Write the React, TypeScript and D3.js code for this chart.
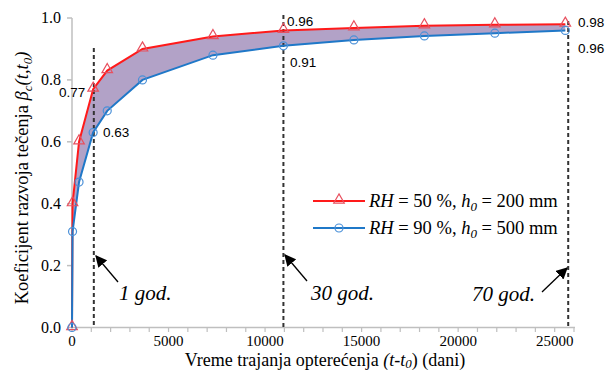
import React from "react";
import * as d3 from "d3";

const days = [0, 28, 365, 1095, 1825, 3650, 7300, 10950, 14600, 18250, 21900, 25550];
const rh50 = [0, 0.40, 0.60, 0.77, 0.83, 0.90, 0.94, 0.96, 0.968, 0.975, 0.978, 0.98];
const rh90 = [0, 0.31, 0.47, 0.63, 0.70, 0.80, 0.88, 0.91, 0.929, 0.942, 0.951, 0.96];
const xTicks = [0, 5000, 10000, 15000, 20000, 25000];
const xMinor = d3.range(0, 26001, 1000);
const yTicks = [0, 0.2, 0.4, 0.6, 0.8, 1.0];
const yearLines = [
  { x: 1130, label: "1 god." },
  { x: 10950, label: "30 god." },
  { x: 25700, label: "70 god." },
];

const W = 608, H = 371;
const x = d3.scaleLinear().domain([0, 26000]).range([72, 574]);
const y = d3.scaleLinear().domain([0, 1]).range([327.5, 18]);

const RED = "#ff1a1a";
const BLUE = "#1f78c8";
const serif = '"Liberation Serif"';
const sans = '"Liberation Sans"';

export default function App() {
  const pts = days.map((d, i) => ({ d, a: rh50[i], b: rh90[i] }));
  const area = d3.area<any>().x(p => x(p.d)).y0(p => y(p.b)).y1(p => y(p.a))(pts) || "";
  const lineA = d3.line<any>().x(p => x(p.d)).y(p => y(p.a))(pts) || "";
  const lineB = d3.line<any>().x(p => x(p.d)).y(p => y(p.b))(pts) || "";
  const tri = d3.symbol().type(d3.symbolTriangle).size(48)() || "";

  const dashTops = [48, 15, 21];
  const arrows = [
    { x1: 118, y1: 282, x2: 96, y2: 256, tx: 119, ty: 300 },
    { x1: 307, y1: 281, x2: 285, y2: 255, tx: 311, ty: 300 },
    { x1: 542, y1: 292, x2: 567, y2: 268, tx: 472, ty: 301 },
  ];
  const st = (f: string) => ({ fontFamily: f });

  return (
    <svg width={W} height={H} style={{ position: "absolute", left: 0, top: 0 }}>
      <defs>
        <marker id="ah" viewBox="0 0 10 10" refX="9" refY="5" markerWidth="9" markerHeight="9" orient="auto">
          <path d="M0,0 L10,5 L0,10 z" fill="#000" />
        </marker>
      </defs>
      <rect width={W} height={H} fill="#fff" />
      <line x1={72} x2={72} y1={18} y2={327.5} stroke="#bfbfbf" strokeWidth={1.5} />
      <line x1={72} x2={575} y1={327.5} y2={327.5} stroke="#bfbfbf" strokeWidth={1.5} />
      {yTicks.map(t => (
        <g key={t}>
          <line x1={67} x2={72} y1={y(t)} y2={y(t)} stroke="#bfbfbf" strokeWidth={1.5} />
          <text x={61} y={y(t) + 5} textAnchor="end" style={st(serif)} fontSize={16} fill="#000">{t.toFixed(1)}</text>
        </g>
      ))}
      {xMinor.map(t => (
        <line key={t} x1={x(t)} x2={x(t)} y1={327.5} y2={332} stroke="#bfbfbf" strokeWidth={1.2} />
      ))}
      {xTicks.map(t => (
        <text key={t} x={x(t)} y={346} textAnchor="middle" style={st(serif)} fontSize={15} fill="#000">{t}</text>
      ))}
      <path d={area} fill="rgb(178,162,199)" />
      {yearLines.map((l, i) => (
        <line key={i} x1={x(l.x)} x2={x(l.x)} y1={dashTops[i]} y2={327.5} stroke="#333" strokeWidth={2} strokeDasharray="4,3" />
      ))}
      <path d={lineA} fill="none" stroke={RED} strokeWidth={2} />
      <path d={lineB} fill="none" stroke={BLUE} strokeWidth={2} />
      {pts.map((p, i) => (
        <path key={"t" + i} d={tri} transform={`translate(${x(p.d)},${y(p.a) - 1})`} fill="none" stroke="#e8505f" strokeWidth={1.2} />
      ))}
      {pts.map((p, i) => (
        <circle key={"c" + i} cx={x(p.d)} cy={y(p.b)} r={4} fill="none" stroke="#4a90d8" strokeWidth={1.2} />
      ))}
      <text x={59} y={97} style={st(sans)} fontSize={13.5} fill="#000">0.77</text>
      <text x={103} y={137} style={st(sans)} fontSize={13.5} fill="#000">0.63</text>
      <text x={287} y={26} style={st(sans)} fontSize={13.5} fill="#000">0.96</text>
      <text x={290} y={67} style={st(sans)} fontSize={13.5} fill="#000">0.91</text>
      <text x={578} y={27} style={st(sans)} fontSize={13.5} fill="#000">0.98</text>
      <text x={578} y={53} style={st(sans)} fontSize={13.5} fill="#000">0.96</text>
      {arrows.map((a, i) => (
        <g key={i}>
          <line x1={a.x1} x2={a.x2} y1={a.y1} y2={a.y2} stroke="#000" strokeWidth={1.3} markerEnd="url(#ah)" />
          <text x={a.tx} y={a.ty} style={st(serif)} fontStyle="italic" fontSize={21} fill="#000">{yearLines[i].label}</text>
        </g>
      ))}
      <line x1={313} x2={365} y1={201} y2={201} stroke={RED} strokeWidth={2} />
      <path d={tri} transform="translate(339,200)" fill="none" stroke="#e8505f" strokeWidth={1.2} />
      <text x={369} y={207} style={st(serif)} fontSize={18.5} fill="#000">
        <tspan fontStyle="italic">RH</tspan> = 50 %, <tspan fontStyle="italic">h</tspan><tspan fontStyle="italic" fontSize={13} dy={4}>0</tspan><tspan dy={-4}> = 200 mm</tspan>
      </text>
      <line x1={313} x2={365} y1={228} y2={228} stroke={BLUE} strokeWidth={2} />
      <circle cx={339} cy={228} r={4} fill="none" stroke="#4a90d8" strokeWidth={1.2} />
      <text x={369} y={234} style={st(serif)} fontSize={18.5} fill="#000">
        <tspan fontStyle="italic">RH</tspan> = 90 %, <tspan fontStyle="italic">h</tspan><tspan fontStyle="italic" fontSize={13} dy={4}>0</tspan><tspan dy={-4}> = 500 mm</tspan>
      </text>
      <text x={325} y={366} textAnchor="middle" style={st(serif)} fontSize={18} fill="#000">
        Vreme trajanja opterećenja <tspan fontStyle="italic">(t-t</tspan><tspan fontStyle="italic" fontSize={13} dy={2}>0</tspan><tspan dy={-2}>) (dani)</tspan>
      </text>
      <text transform="translate(28,178) rotate(-90)" textAnchor="middle" style={st(serif)} fontSize={18.5} fill="#000">
        Koeficijent razvoja tečenja  <tspan fontStyle="italic">β</tspan><tspan fontStyle="italic" fontSize={13} dy={4}>c</tspan><tspan fontStyle="italic" dy={-4}>(t,t</tspan><tspan fontStyle="italic" fontSize={13} dy={4}>0</tspan><tspan fontStyle="italic" dy={-4}>)</tspan>
      </text>
    </svg>
  );
}
